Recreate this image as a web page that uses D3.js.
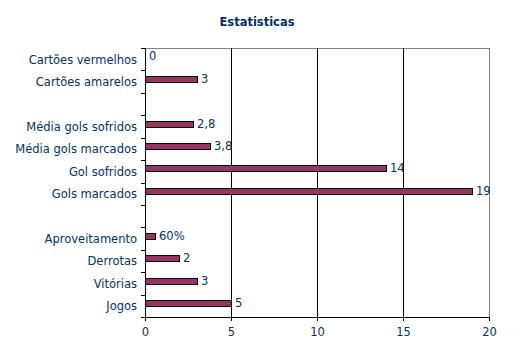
<!DOCTYPE html>
<html><head><meta charset="utf-8">
<script src="https://cdn.jsdelivr.net/npm/d3@7"></script>
<style>
html,body{margin:0;padding:0;background:#fff;}
text{font-family:"DejaVu Sans",Verdana,sans-serif;fill:#003366;}
</style></head>
<body><svg id="c" width="513" height="356"></svg>
<script>
// bottom to top
const categories = ["Jogos","Vitórias","Derrotas","Aproveitamento","","Gols marcados","Gol sofridos","Média gols marcados","Média gols sofridos","","Cartões amarelos","Cartões vermelhos"];
const values = [5,3,2,0.6,null,19,14,3.8,2.8,null,3,0];
const valueLabels = ["5","3","2","60%","","19","14","3,8","2,8","","3","0"];
const xTicks = [0,5,10,15,20];
const title = "Estatisticas";

const svg = d3.select("#c");
const L = 145, R = 489, T = 48, B = 317;
const x = d3.scaleLinear().domain([0,20]).range([L,R]);
const idx = categories.map((d,i)=>i);
const y = d3.scaleBand().domain(idx).range([B,T]);
const bw = y.bandwidth();

svg.append("text").attr("x",257).attr("y",26).attr("text-anchor","middle")
  .style("font-weight","bold").style("font-size","11.5px").text(title);

// border top/right gray
svg.append("line").attr("x1",L).attr("x2",R+0.5).attr("y1",T+0.5).attr("y2",T+0.5).attr("stroke","#808080");
svg.append("line").attr("x1",R+0.5).attr("x2",R+0.5).attr("y1",T).attr("y2",B).attr("stroke","#808080");

// gridlines
svg.selectAll(".grid").data(xTicks.filter(t=>t>0&&t<20)).enter().append("line")
  .attr("x1",d=>Math.round(x(d))+0.5).attr("x2",d=>Math.round(x(d))+0.5)
  .attr("y1",T).attr("y2",B).attr("stroke","#000");

// bars
svg.selectAll(".bar").data(idx.filter(i=>values[i]!==null)).enter().append("rect")
  .attr("x",x(0)+0.5).attr("y",i=>Math.round(y(i)+5.4)+0.5)
  .attr("width",i=>Math.round(x(values[i])-x(0))).attr("height",6)
  .attr("fill","#993366").attr("stroke","#000").attr("stroke-width",1)
  .style("display",i=>values[i]===0?"none":null);

// value labels
svg.selectAll(".vl").data(idx.filter(i=>values[i]!==null)).enter().append("text")
  .attr("x",i=>Math.round(x(values[i]))+4).attr("y",i=>Math.round(y(i)+5.4)+7)
  .style("font-size","11.5px").text(i=>valueLabels[i]);

// left axis
svg.append("line").attr("x1",L+0.5).attr("x2",L+0.5).attr("y1",T).attr("y2",B+4).attr("stroke","#000");
const bounds = d3.range(categories.length+1).map(k=>B - k*bw);
svg.selectAll(".lt").data(bounds).enter().append("line")
  .attr("x1",L-4).attr("x2",L+1).attr("y1",d=>Math.round(d)+0.5).attr("y2",d=>Math.round(d)+0.5).attr("stroke","#000");
// bottom axis
svg.append("line").attr("x1",L-4).attr("x2",R+1).attr("y1",B+0.5).attr("y2",B+0.5).attr("stroke","#000");
svg.selectAll(".bt").data(xTicks).enter().append("line")
  .attr("x1",d=>Math.round(x(d))+0.5).attr("x2",d=>Math.round(x(d))+0.5)
  .attr("y1",B).attr("y2",B+4).attr("stroke","#000");
svg.selectAll(".bl").data(xTicks).enter().append("text")
  .attr("x",d=>Math.round(x(d))+0.5).attr("y",336).attr("text-anchor","middle")
  .style("font-size","11.5px").text(d=>d);

// category labels
svg.selectAll(".cl").data(idx).enter().append("text")
  .attr("x",137).attr("y",i=>y(i)+bw/2+4.5).attr("text-anchor","end")
  .style("font-size","11.5px").text(i=>categories[i]);
</script></body></html>
